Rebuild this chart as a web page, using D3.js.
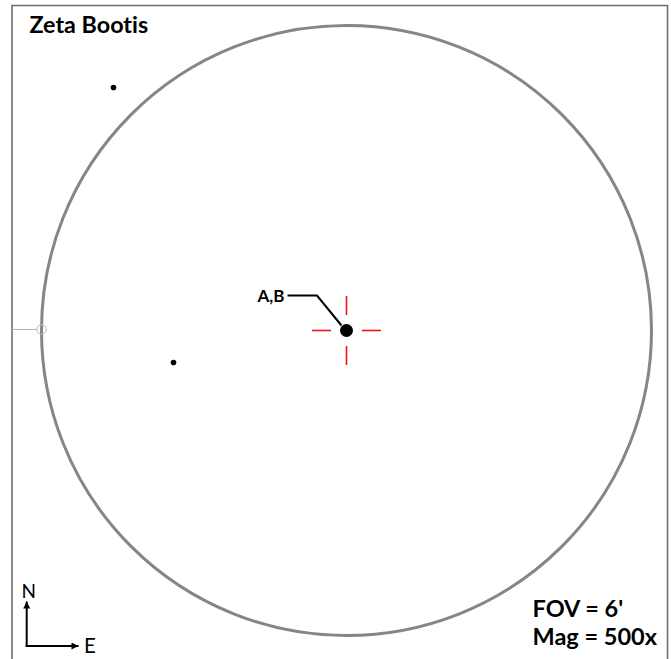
<!DOCTYPE html>
<html>
<head>
<meta charset="utf-8">
<script src="https://cdn.jsdelivr.net/npm/d3@7"></script>
<style>
  html, body { margin: 0; padding: 0; background: #fff; }
  svg { display: block; }
  text { font-variant-ligatures: none; font-feature-settings: "liga" 0, "clig" 0; }
</style>
</head>
<body>
<svg id="chart" width="671" height="659"></svg>
<script>
// ---- data ----
const chartTitle = "Zeta Bootis";
const fovArcmin = 6;
const magnification = 500;
// star offsets from field centre, arcseconds (x: east to the right, y: north up)
const starNames = ["A,B", "", ""];
const starX = [0, -137.5, -102.1];
const starY = [0, 143.4, -18.9];
const starMag = [3.8, 12.5, 12.5];
const infoLines = ["FOV = " + fovArcmin + "'", "Mag = " + magnification + "x"];

// ---- layout ----
const svg = d3.select("#chart");
const cx = 346.5, cy = 330.5, R = 305;
const half = fovArcmin * 60 / 2;
const xs = d3.scaleLinear().domain([-half, half]).range([cx - R, cx + R]);
const ys = d3.scaleLinear().domain([-half, half]).range([cy + R, cy - R]);
const rScale = d3.scaleLinear().domain([3.8, 12.5]).range([6.5, 2.8]);
const font = "Lato, 'Open Sans', sans-serif";

// frame
svg.append("path")
  .attr("d", "M12,670 L12,5.5 L667.5,5.5 L667.5,670")
  .attr("fill", "none").attr("stroke", "#6e6e6e").attr("stroke-width", 1.6);

// field of view circle
svg.append("circle")
  .attr("cx", xs(0)).attr("cy", ys(0)).attr("r", R)
  .attr("fill", "none").attr("stroke", "#868686").attr("stroke-width", 3);

// small marker at west edge
svg.append("line")
  .attr("x1", 12).attr("x2", xs(-half) - 4.5)
  .attr("y1", ys(0) - 1).attr("y2", ys(0) - 1)
  .attr("stroke", "#b0b0b0").attr("stroke-width", 1);
svg.append("circle")
  .attr("cx", xs(-half)).attr("cy", ys(0) - 1).attr("r", 4.7)
  .attr("fill", "none").attr("stroke", "#b8b8b8").attr("stroke-width", 1);

// red crosshair around centre
const crossGap = 15.5, crossEnd = 34.5;
const crossDirs = [{dx: 0, dy: -1}, {dx: 0, dy: 1}, {dx: -1, dy: 0}, {dx: 1, dy: 0}];
const gCross = svg.append("g");
crossDirs.forEach(function (c) {
  gCross.append("line")
    .attr("x1", xs(0) + c.dx * crossGap).attr("y1", ys(0) + c.dy * crossGap)
    .attr("x2", xs(0) + c.dx * crossEnd).attr("y2", ys(0) + c.dy * crossEnd)
    .attr("stroke", "#e8141c").attr("stroke-width", 1.6);
});

// stars
const stars = starX.map(function (v, i) {
  return { name: starNames[i], sx: v, sy: starY[i], mag: starMag[i] };
});
const gStars = svg.append("g");
stars.forEach(function (s) {
  gStars.append("circle")
    .attr("cx", xs(s.sx)).attr("cy", ys(s.sy)).attr("r", rScale(s.mag))
    .attr("fill", "#000");
});

// leader + label for A,B
const main = stars[0];
const mx = xs(main.sx), my = ys(main.sy);
svg.append("path")
  .attr("d", "M" + (mx - 5) + "," + (my - 5) + " L" + (mx - 29.5) + "," + (my - 35) + " L" + (mx - 59) + "," + (my - 35))
  .attr("fill", "none").attr("stroke", "#000").attr("stroke-width", 2);
svg.append("text")
  .attr("x", mx - 62).attr("y", my - 28.5)
  .attr("text-anchor", "end")
  .attr("font-family", font).attr("font-weight", "bold").attr("font-size", 17)
  .text(main.name);

// title
svg.append("text")
  .attr("x", 29.5).attr("y", 33.3)
  .attr("font-family", font).attr("font-weight", "bold").attr("font-size", 23.3)
  .text(chartTitle);

// info lines
infoLines.forEach(function (t, i) {
  svg.append("text")
    .attr("x", 532.5).attr("y", 617.3 + i * 27.7)
    .attr("font-family", font).attr("font-weight", "bold").attr("font-size", 23.5)
    .text(t);
});

// compass
const defs = svg.append("defs");
defs.append("marker").attr("id", "ah")
  .attr("viewBox", "0 0 10 10").attr("refX", 10).attr("refY", 5)
  .attr("markerWidth", 4.5).attr("markerHeight", 3.5).attr("markerUnits", "strokeWidth")
  .attr("orient", "auto")
  .append("path").attr("d", "M0,0 L10,5 L0,10 Z").attr("fill", "#000");
const ox = 26.7, oy = 646;
svg.append("line").attr("x1", ox).attr("y1", oy + 1).attr("x2", ox).attr("y2", 601.5)
  .attr("stroke", "#000").attr("stroke-width", 2).attr("marker-end", "url(#ah)");
svg.append("line").attr("x1", ox - 1).attr("y1", oy).attr("x2", 78.5).attr("y2", oy)
  .attr("stroke", "#000").attr("stroke-width", 2).attr("marker-end", "url(#ah)");
svg.append("text").attr("x", 21.5).attr("y", 598)
  .attr("font-family", font).attr("font-size", 19).text("N");
svg.append("text").attr("x", 84).attr("y", 652.7)
  .attr("font-family", font).attr("font-size", 20.5).text("E");
</script>
</body>
</html>
